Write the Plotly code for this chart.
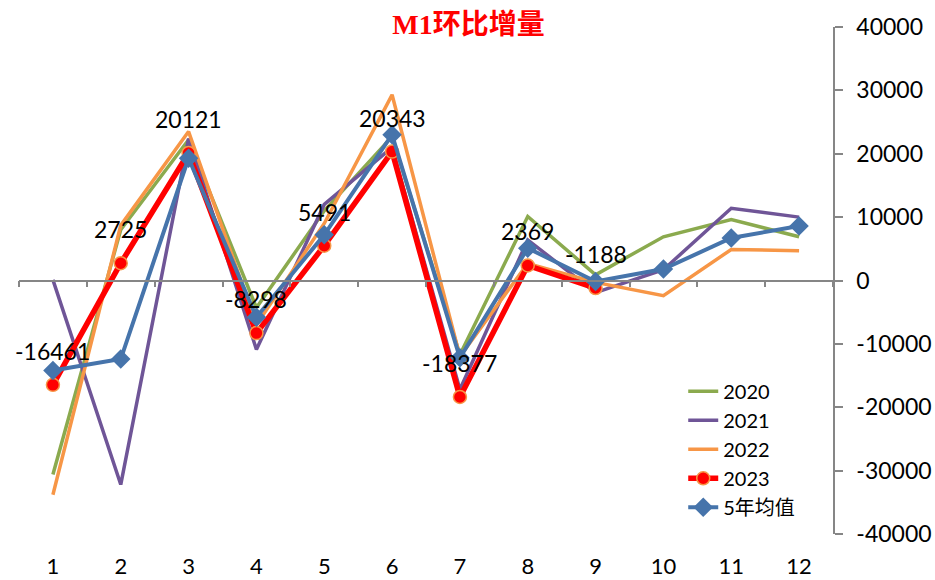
import plotly.graph_objects as go

# month-on-month M1 change (亿元)
months = [1, 2, 3, 4, 5, 6, 7, 8, 9, 10, 11, 12]
month_labels = ["1", "2", "3", "4", "5", "6", "7", "8", "9", "10", "11", "12"]

m2020 = [-30600, 8000, 22200, -4300, 11000, 22700, -11700, 10100, 900, 6900, 9600, 6900]
m2021 = [100, -32200, 22400, -10900, 12000, 21000, -17200, 6400, -1900, 1700, 11400, 10000]
m2022 = [-33800, 8700, 23500, -7000, 9000, 29300, -12000, 2700, -300, -2400, 4900, 4700]
m2023 = [-16461, 2725, 20121, -8298, 5491, 20343, -18377, 2369, -1188]
avg5 = [-14200, -12400, 19300, -5800, 7200, 23000, -12200, 5100, -150, 1800, 6700, 8600]

y_ticks = [-40000, -30000, -20000, -10000, 0, 10000, 20000, 30000, 40000]
y_tick_labels = ["-40000", "-30000", "-20000", "-10000", "0", "10000", "20000", "30000", "40000"]

axis_grey = '#868686'
num_font = 'Lato, Open Sans, sans-serif'

fig = go.Figure()

fig.add_trace(go.Scatter(x=months, y=m2020, mode='lines', name='2020',
                         line=dict(color='#8BAA4E', width=3.5)))
fig.add_trace(go.Scatter(x=months, y=m2021, mode='lines', name='2021',
                         line=dict(color='#6F5597', width=3.5)))
fig.add_trace(go.Scatter(x=months, y=m2022, mode='lines', name='2022',
                         line=dict(color='#F79646', width=3.5)))
fig.add_trace(go.Scatter(x=months[:len(m2023)], y=m2023, mode='lines+markers', name='2023',
                         line=dict(color='#FF0000', width=5.5),
                         marker=dict(symbol='circle', size=13, color='#FF0000',
                                     line=dict(color='#F79646', width=1.5))))
fig.add_trace(go.Scatter(x=months, y=avg5, mode='lines+markers', name='5年均值',
                         line=dict(color='#4674AB', width=4),
                         marker=dict(symbol='diamond', size=15, color='#4674AB')))

# data labels for 2023, above the points
for m, v in zip(months, m2023):
    fig.add_annotation(x=m, y=v, text=str(v), showarrow=False, yshift=34,
                       font=dict(family=num_font, size=23, color='black'))

# dummy trace so the zero-line category axis gets drawn
fig.add_trace(go.Scatter(x=[months[0]], y=[0], xaxis='x2', mode='markers',
                         marker=dict(opacity=0), showlegend=False, hoverinfo='skip'))

fig.update_layout(
    width=935,
    height=580,
    margin=dict(l=19, r=102, t=27, b=46),
    paper_bgcolor='white',
    plot_bgcolor='white',
    title=dict(text='M1环比增量', x=0.501, xanchor='center', xref='container',
               y=0.958, yref='container', yanchor='middle',
               font=dict(family='Liberation Serif, Noto Sans CJK SC', size=28, color='#FF0000',
                         weight='bold')),
    xaxis=dict(range=[0.5, 12.5], tickvals=months, ticktext=month_labels,
               showline=False, showgrid=False, zeroline=False, ticks='',
               automargin=False, ticklabelstandoff=17,
               tickfont=dict(family=num_font, size=22, color='black')),
    xaxis2=dict(overlaying='x', anchor='free', position=0.5, range=[0.5, 12.5],
                tickvals=[m - 0.5 for m in months] + [12.5], showticklabels=False,
                showline=True, linecolor=axis_grey, linewidth=1.5,
                ticks='outside', ticklen=6, tickcolor=axis_grey, tickwidth=1.5,
                showgrid=False, zeroline=False),
    yaxis=dict(range=[-40000, 40000], side='right', tickvals=y_ticks, ticktext=y_tick_labels,
               showline=True, linecolor=axis_grey, linewidth=1.5,
               ticks='outside', ticklen=8, tickcolor=axis_grey, tickwidth=1.5,
               showgrid=False, zeroline=False, ticklabelstandoff=9, automargin=False,
               tickfont=dict(family=num_font, size=23, color='black')),
    legend=dict(x=0.816, y=0.32, xanchor='left', yanchor='top',
                bgcolor='rgba(0,0,0,0)',
                font=dict(family='Lato, Noto Sans CJK SC', size=20, color='black')),
    showlegend=True,
)

# drop the default 8px page margin so the chart fills the window exactly
fig.write_html("out.html", config={'displayModeBar': False},
               post_script="document.body.style.margin='0';")
